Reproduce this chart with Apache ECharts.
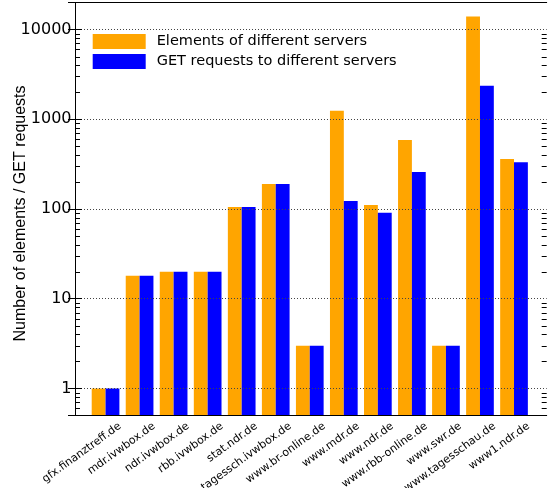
<!DOCTYPE html>
<html>
<head>
<meta charset="utf-8">
<script src="https://cdn.jsdelivr.net/npm/echarts@6/dist/echarts.min.js"></script>
<style>html,body{margin:0;padding:0;background:#fff}#c{width:549px;height:488px}</style>
</head>
<body>
<div id="c"></div>
<script>
const categories = ['gfx.finanztreff.de','mdr.ivwbox.de','ndr.ivwbox.de','rbb.ivwbox.de','stat.ndr.de','tagessch.ivwbox.de','www.br-online.de','www.mdr.de','www.ndr.de','www.rbb-online.de','www.swr.de','www.tagesschau.de','www1.ndr.de'];
const elements = [1, 18, 20, 20, 105, 190, 3, 1240, 111, 586, 3, 14000, 360];
const getRequests = [1, 18, 20, 20, 105, 190, 3, 123, 91, 258, 3, 2360, 331];
const seriesNames = ['Elements of different servers', 'GET requests to different servers'];
const majorTicks = [1, 10, 100, 1000, 10000];
const minorTicks = [0.6,0.7,0.8,0.9, 2,3,4,5,6,7,8,9, 20,30,40,50,60,70,80,90, 200,300,400,500,600,700,800,900, 2000,3000,4000,5000,6000,7000,8000,9000];
const yMin = 0.5, yMax = 20000;

const chart = echarts.init(document.getElementById('c'), null, {renderer: 'canvas'});
const TOP = 2.5, HEIGHT = 413;
const FONT = 'DejaVu Sans';
const frameLine = {show: true, lineStyle: {color: '#000', width: 1}};
const hidden = {show: false};

chart.setOption({
  animation: false,
  backgroundColor: '#fff',
  grid: [
    {left: 75, top: TOP, width: 471.7, height: HEIGHT, containLabel: false, outerBoundsMode: 'none'},
    {left: 88.53, top: TOP, width: 442.5, height: HEIGHT, containLabel: false, outerBoundsMode: 'none'},
    {left: 103, top: TOP, width: 442.5, height: HEIGHT, containLabel: false, outerBoundsMode: 'none'}
  ],
  legend: {
    orient: 'vertical', left: 92.7, top: 34, padding: 0,
    itemWidth: 53, itemHeight: 15, itemGap: 5, icon: 'rect',
    selectedMode: false,
    data: seriesNames,
    textStyle: {fontFamily: FONT, fontSize: 14.5, color: '#000', lineHeight: 15, padding: [0,0,0,6]}
  },
  xAxis: [
    {gridIndex: 0, type: 'value', min: 0, max: 1, position: 'bottom', z: 5,
     axisLine: frameLine, axisTick: hidden, axisLabel: hidden, splitLine: hidden},
    {gridIndex: 0, type: 'value', min: 0, max: 1, position: 'top', z: 5,
     axisLine: frameLine, axisTick: hidden, axisLabel: hidden, splitLine: hidden},
    {gridIndex: 1, type: 'category', data: categories, show: false},
    {gridIndex: 2, type: 'category', data: categories, position: 'bottom',
     axisLine: hidden, axisTick: hidden, splitLine: hidden,
     axisLabel: {interval: 0, rotate: 36, margin: 9.5, fontFamily: FONT, fontSize: 11, color: '#000',
       hideOverlap: false, overflow: 'none', width: 400}}
  ],
  yAxis: [
    {gridIndex: 0, type: 'log', logBase: 10, min: yMin, max: yMax, position: 'left', z: 5,
     axisLine: frameLine,
     axisTick: {show: true, inside: true, length: 7, lineStyle: {color: '#000'}},
     axisLabel: {margin: 3.5, fontFamily: FONT, fontSize: 16, color: '#000',
       showMinLabel: false, showMaxLabel: false,
       formatter: v => { const r = Math.round(v); return majorTicks.indexOf(r) >= 0 ? String(r) : ''; }},
     splitLine: {show: true, lineStyle: {color: '#444', width: 1, type: [1, 2]}},
     name: 'Number of elements / GET requests', nameLocation: 'middle', nameGap: 46,
     nameMoveOverlap: false,
     nameTextStyle: {fontFamily: 'Liberation Sans', fontSize: 16, color: '#000', padding: [0, 9, 0, 0]}},
    {gridIndex: 0, type: 'log', logBase: 10, min: yMin, max: yMax, position: 'right', z: 5,
     axisLine: frameLine,
     axisTick: {show: true, inside: true, length: 7, lineStyle: {color: '#000'}},
     axisLabel: hidden, splitLine: hidden},
    {gridIndex: 1, type: 'log', logBase: 10, min: yMin, max: yMax, startValue: yMin, show: false},
    {gridIndex: 2, type: 'value', show: false}
  ],
  series: [
    {name: seriesNames[0], type: 'bar', xAxisIndex: 2, yAxisIndex: 2, data: elements,
     barWidth: 13.85, barGap: '0%', itemStyle: {color: '#FFA500'}},
    {name: seriesNames[1], type: 'bar', xAxisIndex: 2, yAxisIndex: 2, data: getRequests,
     barWidth: 13.85, barGap: '0%', itemStyle: {color: '#0000FF'}},
    {type: 'custom', xAxisIndex: 0, yAxisIndex: 0, z: 6, silent: true,
     data: minorTicks.map(v => [0, v]), encode: {x: 0, y: 1},
     renderItem: function (params, api) {
       const cs = params.coordSys;
       const y = Math.round(api.coord([0, api.value(1)])[1]) + 0.5;
       const L = 5;
       return {type: 'group', children: [
         {type: 'line', shape: {x1: cs.x, y1: y, x2: cs.x + L, y2: y}, style: {stroke: '#000', lineWidth: 1}},
         {type: 'line', shape: {x1: cs.x + cs.width - L, y1: y, x2: cs.x + cs.width, y2: y}, style: {stroke: '#000', lineWidth: 1}}
       ]};
     }}
  ]
});
</script>
</body>
</html>
